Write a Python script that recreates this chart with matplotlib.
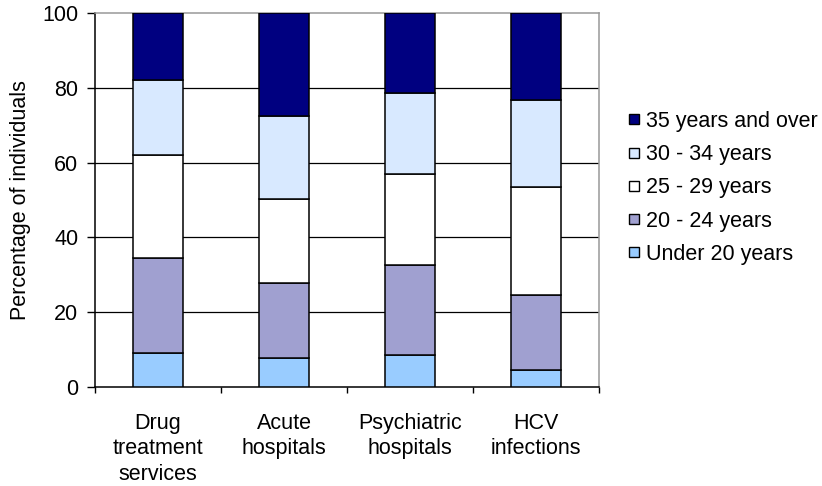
import numpy as np
import matplotlib
matplotlib.use("Agg")
import matplotlib.pyplot as plt
from matplotlib.lines import Line2D

plt.rcParams['font.family'] = ['Liberation Sans', 'DejaVu Sans']

# ─── Data ────────────────────────────────────────────────────────────────
categories = ["Drug\ntreatment\nservices", "Acute\nhospitals",
              "Psychiatric\nhospitals", "HCV\ninfections"]
age_groups = ["Under 20 years", "20 - 24 years", "25 - 29 years",
              "30 - 34 years", "35 years and over"]
under_20 = [9.0, 7.8, 8.4, 4.6]
age_20_24 = [25.6, 19.9, 24.1, 19.9]
age_25_29 = [27.4, 22.5, 24.6, 28.9]
age_30_34 = [20.2, 22.4, 21.5, 23.5]
age_35_plus = [17.8, 27.4, 21.4, 23.1]
yticks = [0, 20, 40, 60, 80, 100]

series = [under_20, age_20_24, age_25_29, age_30_34, age_35_plus]
colors = ['#99CCFF', '#A0A0D0', '#FFFFFF', '#D8E9FF', '#000080']
FS = 15.5

fig = plt.figure(figsize=(8.22, 4.86), dpi=100)
ax = fig.add_axes([0.1156, 0.2043, 0.6131, 0.7683])

x = np.arange(len(categories))
bottom = np.zeros(len(categories))
for vals, col, lab in zip(series, colors, age_groups):
    ax.bar(x, vals, bottom=bottom, width=0.39, color=col,
           edgecolor='black', linewidth=1.1, label=lab, zorder=3)
    bottom += np.array(vals)

ax.set_xlim(-0.5, len(categories) - 0.5)
ax.set_ylim(0, 100)
ax.set_yticks(yticks)
ax.set_yticklabels([str(t) for t in yticks], fontsize=FS)
ax.set_ylabel('Percentage of individuals', fontsize=FS)
ax.yaxis.set_label_coords(-0.127, 0.5)

# gridlines
for t in yticks[1:-1]:
    ax.axhline(t, color='black', linewidth=0.9, zorder=1)

# category labels, ticks only on category boundaries
ax.set_xticks(x)
ax.set_xticklabels(categories, fontsize=FS, linespacing=1.27)
ax.tick_params(axis='x', which='major', length=0, pad=19)
ax.set_xticks(np.arange(-0.5, len(categories)), minor=True)
ax.tick_params(axis='x', which='minor', length=4.5, width=1, direction='out')
ax.tick_params(axis='y', length=6, width=1, direction='out', pad=6, labelsize=FS)

ax.spines['left'].set_color('black')
ax.spines['bottom'].set_color('black')
ax.spines['top'].set_color('#999999')
ax.spines['right'].set_color('#999999')
for s in ax.spines.values():
    s.set_linewidth(1.1)

# legend (reversed order, small square markers)
handles = [Line2D([0], [0], marker='s', linestyle='none', markersize=6.5,
                  markerfacecolor=c, markeredgecolor='black', markeredgewidth=1)
           for c in colors][::-1]
fig.legend(handles, age_groups[::-1], loc='upper left',
           bbox_to_anchor=(0.7634, 0.772), frameon=False, fontsize=FS,
           handlelength=0.6, handletextpad=0.26, labelspacing=0.57,
           borderpad=0, borderaxespad=0)

fig.savefig('out.png', dpi=100)
